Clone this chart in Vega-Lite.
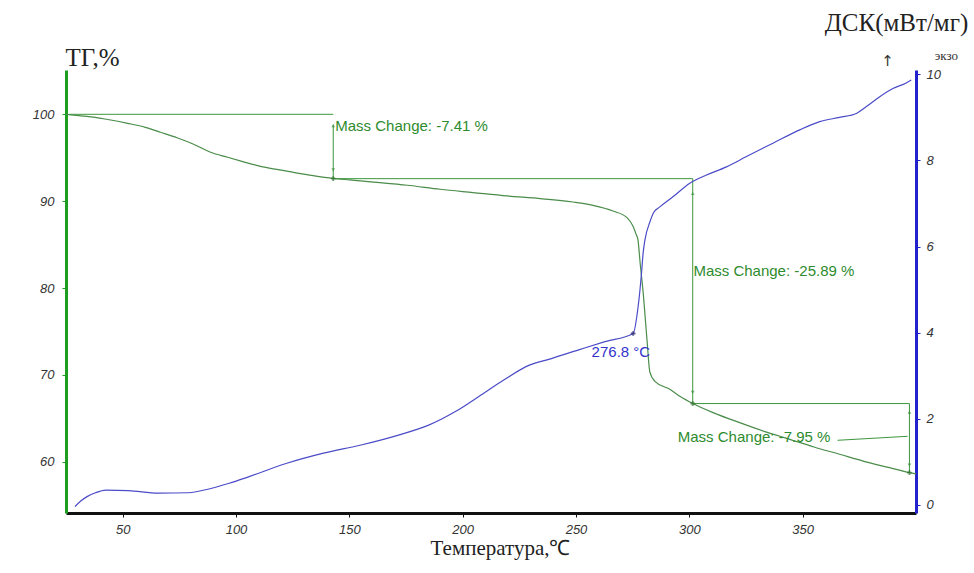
{
  "$schema": "https://vega.github.io/schema/vega-lite/v6.json",
  "width": 850,
  "height": 443,
  "autosize": {"type": "none"},
  "padding": {"left": 66, "top": 70, "right": 58, "bottom": 60},
  "background": "white",
  "config": {
    "view": {"stroke": null},
    "axis": {
      "grid": false,
      "labelFont": "Liberation Sans",
      "labelFontStyle": "italic",
      "labelFontSize": 13,
      "labelColor": "#333333",
      "titleFont": "Liberation Serif",
      "titleFontWeight": "normal",
      "titleColor": "#222222",
      "tickSize": 4
    },
    "axisX": {
      "domainColor": "#111111",
      "domainWidth": 3,
      "tickColor": "#111111",
      "labelPadding": 6,
      "titleFontSize": 21,
      "titleX": 434,
      "titleY": 35,
      "titleAlign": "center",
      "titleBaseline": "middle"
    },
    "axisLeft": {
      "domainColor": "#1e9e1e",
      "domainWidth": 3,
      "tickColor": "#1e9e1e",
      "labelPadding": 8,
      "titleAngle": 0,
      "titleX": 26,
      "titleY": -13,
      "titleAlign": "center",
      "titleBaseline": "middle",
      "titleFontSize": 25
    },
    "axisRight": {
      "domainColor": "#2222cc",
      "domainWidth": 3,
      "tickColor": "#2222cc",
      "labelPadding": 6,
      "titleAngle": 0,
      "titleX": -20,
      "titleY": -48,
      "titleAlign": "center",
      "titleBaseline": "middle",
      "titleFontSize": 25
    }
  },
  "datasets": {
    "tg": [
      {"t": 25, "tg": 100.0},
      {"t": 28.4, "tg": 99.9},
      {"t": 36, "tg": 99.7},
      {"t": 44.7, "tg": 99.34},
      {"t": 52.2, "tg": 98.96},
      {"t": 60, "tg": 98.5},
      {"t": 66.7, "tg": 97.93},
      {"t": 74, "tg": 97.3},
      {"t": 81.3, "tg": 96.55},
      {"t": 88.8, "tg": 95.63},
      {"t": 96.3, "tg": 95.05},
      {"t": 103, "tg": 94.55},
      {"t": 110.8, "tg": 94.01},
      {"t": 118, "tg": 93.65},
      {"t": 125.3, "tg": 93.32},
      {"t": 134, "tg": 92.95},
      {"t": 142.9, "tg": 92.63},
      {"t": 150, "tg": 92.45},
      {"t": 160.6, "tg": 92.2},
      {"t": 175.6, "tg": 91.83},
      {"t": 190.1, "tg": 91.37},
      {"t": 204.6, "tg": 90.99},
      {"t": 219.6, "tg": 90.6},
      {"t": 234.1, "tg": 90.3},
      {"t": 248.7, "tg": 89.9},
      {"t": 257.5, "tg": 89.52},
      {"t": 266.3, "tg": 88.87},
      {"t": 272.5, "tg": 88.1},
      {"t": 275.1, "tg": 87.14},
      {"t": 276.5, "tg": 86.2},
      {"t": 277.3, "tg": 85.6},
      {"t": 278.4, "tg": 82.6},
      {"t": 279.5, "tg": 79.85},
      {"t": 281.3, "tg": 74.1},
      {"t": 282.6, "tg": 70.3},
      {"t": 284.8, "tg": 69.26},
      {"t": 291.4, "tg": 68.34},
      {"t": 296, "tg": 67.5},
      {"t": 301.5, "tg": 66.7},
      {"t": 311, "tg": 65.6},
      {"t": 322.2, "tg": 64.5},
      {"t": 333, "tg": 63.5},
      {"t": 344.3, "tg": 62.58},
      {"t": 355, "tg": 61.7},
      {"t": 366.3, "tg": 60.86},
      {"t": 377, "tg": 60.05},
      {"t": 388.3, "tg": 59.32},
      {"t": 397.1, "tg": 58.75},
      {"t": 400, "tg": 58.6}
    ],
    "dsc": [
      {"t": 29.0, "dsc": -0.04},
      {"t": 31.5, "dsc": 0.09},
      {"t": 34.3, "dsc": 0.19},
      {"t": 38, "dsc": 0.28},
      {"t": 42.6, "dsc": 0.34},
      {"t": 52.5, "dsc": 0.33},
      {"t": 65.7, "dsc": 0.27},
      {"t": 79.0, "dsc": 0.28},
      {"t": 88.9, "dsc": 0.38},
      {"t": 97, "dsc": 0.5},
      {"t": 105.5, "dsc": 0.65},
      {"t": 122.1, "dsc": 0.96},
      {"t": 138.6, "dsc": 1.2},
      {"t": 155.2, "dsc": 1.39},
      {"t": 171.7, "dsc": 1.62},
      {"t": 185.0, "dsc": 1.85},
      {"t": 196.6, "dsc": 2.16},
      {"t": 208.1, "dsc": 2.55},
      {"t": 218.1, "dsc": 2.9},
      {"t": 229.7, "dsc": 3.25},
      {"t": 238.0, "dsc": 3.38},
      {"t": 251.2, "dsc": 3.6},
      {"t": 262.8, "dsc": 3.79},
      {"t": 275.2, "dsc": 3.98},
      {"t": 277.4, "dsc": 4.6},
      {"t": 278.9, "dsc": 5.38},
      {"t": 279.6, "dsc": 5.84},
      {"t": 280.4, "dsc": 6.15},
      {"t": 282.6, "dsc": 6.57},
      {"t": 284.4, "dsc": 6.8},
      {"t": 287.0, "dsc": 6.92},
      {"t": 292.9, "dsc": 7.16},
      {"t": 300.2, "dsc": 7.47},
      {"t": 307.6, "dsc": 7.66},
      {"t": 316.4, "dsc": 7.85},
      {"t": 325.2, "dsc": 8.09},
      {"t": 336.9, "dsc": 8.4},
      {"t": 348.7, "dsc": 8.71},
      {"t": 357.5, "dsc": 8.9},
      {"t": 366.3, "dsc": 9.0},
      {"t": 373.7, "dsc": 9.09},
      {"t": 378.1, "dsc": 9.25},
      {"t": 384.0, "dsc": 9.48},
      {"t": 389.8, "dsc": 9.67},
      {"t": 395.7, "dsc": 9.8},
      {"t": 397.9, "dsc": 9.87}
    ],
    "tgrules": [
      {"t": 26.5, "t2": 142.9, "v": 100.0, "v2": 100.0},
      {"t": 142.9, "t2": 301.5, "v": 92.59, "v2": 92.59},
      {"t": 301.5, "t2": 397.1, "v": 66.7, "v2": 66.7},
      {"t": 142.9, "t2": 142.9, "v": 98.8, "v2": 92.59},
      {"t": 301.5, "t2": 301.5, "v": 92.59, "v2": 66.7},
      {"t": 397.1, "t2": 397.1, "v": 66.7, "v2": 58.75},
      {"t": 365.4, "t2": 396.3, "v": 62.47, "v2": 62.93}
    ],
    "arrows": [
      {"t": 142.9, "v": 98.7, "dir": "up"},
      {"t": 142.9, "v": 93.6, "dir": "down"},
      {"t": 301.5, "v": 90.9, "dir": "up"},
      {"t": 301.5, "v": 68.0, "dir": "down"},
      {"t": 397.1, "v": 65.7, "dir": "up"},
      {"t": 397.1, "v": 59.6, "dir": "down"}
    ],
    "tgmarks": [
      {"t": 142.9, "v": 92.59},
      {"t": 301.5, "v": 66.7},
      {"t": 397.1, "v": 58.75}
    ],
    "tglabels": [
      {"t": 143.8, "v": 98.6, "label": "Mass Change: -7.41 %"},
      {"t": 301.8, "v": 82.0, "label": "Mass Change: -25.89 %"},
      {"t": 294.9, "v": 62.8, "label": "Mass Change: -7.95 %"}
    ],
    "dscmarks": [
      {"t": 275.2, "v": 3.98}
    ],
    "dsclabels": [
      {"t": 269.8, "v": 3.55, "label": "276.8 °C"}
    ],
    "exoarrow": [
      {"t": 387.4, "v": 10.3, "label": "↑"}
    ],
    "exo": [
      {"t": 413.4, "v": 10.42, "label": "экзо"}
    ]
  },
  "layer": [
    {
      "layer": [
        {
          "data": {"name": "tg"},
          "mark": {"type": "line", "color": "#4a8c4a", "strokeWidth": 1.2, "interpolate": "monotone", "clip": false},
          "encoding": {
            "x": {
              "field": "t", "type": "quantitative",
              "scale": {"domain": [25, 400], "nice": false, "zero": false},
              "axis": {"values": [50, 100, 150, 200, 250, 300, 350], "title": "Температура,℃"}
            },
            "y": {
              "field": "tg", "type": "quantitative",
              "scale": {"domain": [54.1, 105.1], "nice": false, "zero": false},
              "axis": {"values": [60, 70, 80, 90, 100], "title": "ТГ,%"}
            }
          }
        },
        {
          "data": {"name": "tgrules"},
          "mark": {"type": "rule", "color": "#3c963c", "strokeWidth": 1},
          "encoding": {
            "x": {"field": "t", "type": "quantitative"},
            "x2": {"field": "t2"},
            "y": {"field": "v", "type": "quantitative"},
            "y2": {"field": "v2"}
          }
        },
        {
          "data": {"name": "arrows"},
          "mark": {"type": "point", "filled": true, "size": 14, "color": "#3c963c"},
          "encoding": {
            "x": {"field": "t", "type": "quantitative"},
            "y": {"field": "v", "type": "quantitative"},
            "shape": {"field": "dir", "type": "nominal", "scale": {"domain": ["up", "down"], "range": ["triangle-up", "triangle-down"]}, "legend": null}
          }
        },
        {
          "data": {"name": "tgmarks"},
          "mark": {"type": "point", "shape": "cross", "filled": true, "size": 22, "color": "#2f6f2f"},
          "encoding": {
            "x": {"field": "t", "type": "quantitative"},
            "y": {"field": "v", "type": "quantitative"}
          }
        },
        {
          "data": {"name": "tglabels"},
          "mark": {"type": "text", "align": "left", "baseline": "middle", "font": "Liberation Sans", "fontSize": 15, "color": "#2e8b2e", "letterSpacing": -0.4},
          "encoding": {
            "x": {"field": "t", "type": "quantitative"},
            "y": {"field": "v", "type": "quantitative"},
            "text": {"field": "label"}
          }
        }
      ]
    },
    {
      "layer": [
        {
          "data": {"name": "dsc"},
          "mark": {"type": "line", "color": "#4b4bc8", "strokeWidth": 1.2, "interpolate": "monotone", "clip": false},
          "encoding": {
            "x": {"field": "t", "type": "quantitative"},
            "y": {
              "field": "dsc", "type": "quantitative",
              "scale": {"domain": [-0.19, 10.1], "nice": false, "zero": false},
              "axis": {"orient": "right", "values": [0, 2, 4, 6, 8, 10], "title": "ДСК(мВт/мг)"}
            }
          }
        },
        {
          "data": {"name": "dscmarks"},
          "mark": {"type": "point", "shape": "cross", "filled": true, "size": 22, "color": "#222266"},
          "encoding": {
            "x": {"field": "t", "type": "quantitative"},
            "y": {"field": "v", "type": "quantitative"}
          }
        },
        {
          "data": {"name": "dsclabels"},
          "mark": {"type": "text", "align": "center", "baseline": "middle", "font": "Liberation Sans", "fontSize": 15, "color": "#3333cc", "letterSpacing": -0.6},
          "encoding": {
            "x": {"field": "t", "type": "quantitative"},
            "y": {"field": "v", "type": "quantitative"},
            "text": {"field": "label"}
          }
        },
        {
          "data": {"name": "exoarrow"},
          "mark": {"type": "text", "align": "center", "baseline": "middle", "font": "DejaVu Sans", "fontSize": 15, "color": "#333333"},
          "encoding": {
            "x": {"field": "t", "type": "quantitative"},
            "y": {"field": "v", "type": "quantitative"},
            "text": {"field": "label"}
          }
        },
        {
          "data": {"name": "exo"},
          "mark": {"type": "text", "align": "center", "baseline": "middle", "font": "Liberation Serif", "fontSize": 13, "color": "#333333"},
          "encoding": {
            "x": {"field": "t", "type": "quantitative"},
            "y": {"field": "v", "type": "quantitative"},
            "text": {"field": "label"}
          }
        }
      ]
    }
  ],
  "resolve": {"scale": {"y": "independent"}}
}
